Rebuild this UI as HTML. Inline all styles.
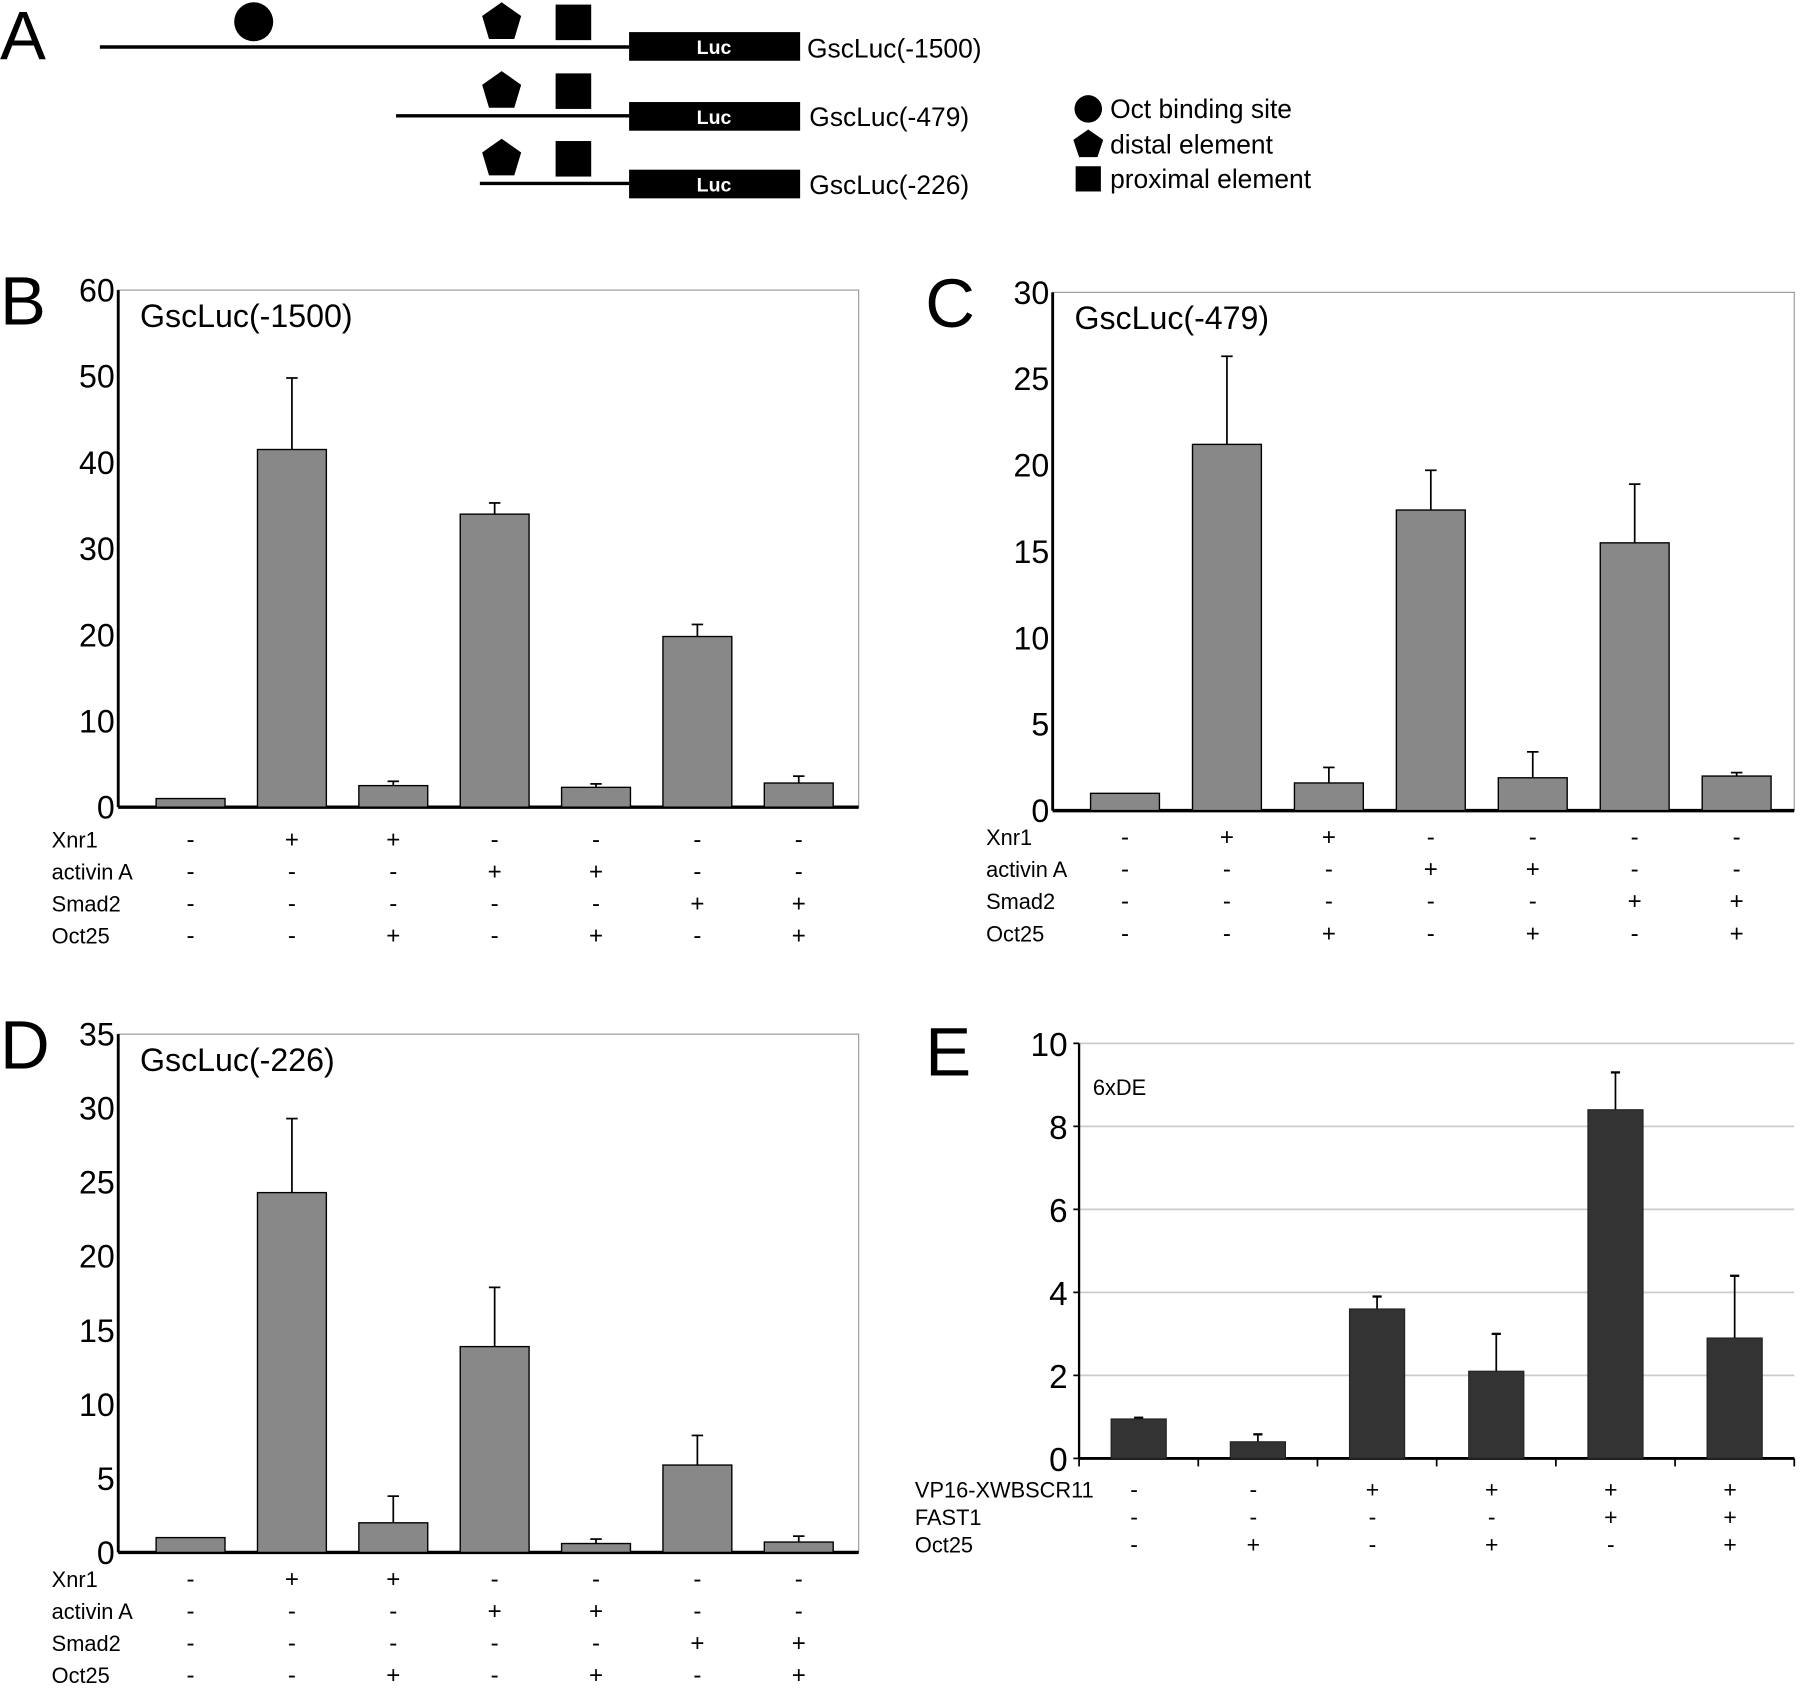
<!DOCTYPE html>
<html><head><meta charset="utf-8"><style>
html,body{margin:0;padding:0;background:#fff;}
svg{display:block;font-family:"Liberation Sans",sans-serif;}
</style></head><body>
<svg id="fig" width="1800" height="1690" viewBox="0 0 1568 1474" preserveAspectRatio="none" xmlns="http://www.w3.org/2000/svg">
<rect width="1568" height="1474" fill="#fff"/>
<g>
<text x="0" y="52" font-size="60">A</text>
<line x1="87" y1="41" x2="548" y2="41" stroke="#000" stroke-width="3"/>
<rect x="548" y="28" width="149" height="25" fill="#000"/>
<text x="622" y="47" font-size="17" font-weight="bold" fill="#fff" text-anchor="middle">Luc</text>
<circle cx="221" cy="19" r="17" fill="#000"/>
<polygon points="437,2 454,14 448,34 426,34 420,14" fill="#000"/>
<rect x="484" y="4" width="31" height="31" fill="#000"/>
<text x="703" y="50" font-size="23">GscLuc(-1500)</text>
<line x1="345" y1="101" x2="548" y2="101" stroke="#000" stroke-width="3"/>
<rect x="548" y="89" width="149" height="25" fill="#000"/>
<text x="622" y="108" font-size="17" font-weight="bold" fill="#fff" text-anchor="middle">Luc</text>
<polygon points="437,62 454,74 448,94 426,94 420,74" fill="#000"/>
<rect x="484" y="64" width="31" height="31" fill="#000"/>
<text x="705" y="110" font-size="23">GscLuc(-479)</text>
<line x1="418" y1="160" x2="548" y2="160" stroke="#000" stroke-width="3"/>
<rect x="548" y="148" width="149" height="25" fill="#000"/>
<text x="622" y="167" font-size="17" font-weight="bold" fill="#fff" text-anchor="middle">Luc</text>
<polygon points="437,121 454,133 448,153 426,153 420,133" fill="#000"/>
<rect x="484" y="123" width="31" height="31" fill="#000"/>
<text x="705" y="169" font-size="23">GscLuc(-226)</text>
<g>
<circle cx="948" cy="95" r="12" fill="#000"/>
<text x="967" y="103" font-size="23">Oct binding site</text>
<polygon points="948,113 961,122 956,137 940,137 935,122" fill="#000"/>
<text x="967" y="134" font-size="23">distal element</text>
<rect x="937" y="145" width="22" height="22" fill="#000"/>
<text x="967" y="164" font-size="23">proximal element</text>
</g>
</g>
<g id="charts"></g>
</svg>
<script>
const NS="http://www.w3.org/2000/svg";
const root=document.getElementById('charts');
const categoriesBCD=["1","2","3","4","5","6","7"];
const valuesB=[1,41.5,2.5,34,2.3,19.8,2.8];
const errTopB=[1,49.8,3,35.3,2.7,21.2,3.6];
const valuesC=[1,21.2,1.6,17.4,1.9,15.5,2];
const errTopC=[1,26.3,2.5,19.7,3.4,18.9,2.2];
const valuesD=[1,24.3,2,13.9,0.6,5.9,0.7];
const errTopD=[1,29.3,3.8,17.9,0.9,7.9,1.1];
const ticksB=[0,10,20,30,40,50,60];
const ticksC=[0,5,10,15,20,25,30];
const ticksD=[0,5,10,15,20,25,30,35];
const rowNamesBCD=["Xnr1","activin A","Smad2","Oct25"];
const rowXnr1=["-","+","+","-","-","-","-"];
const rowActivin=["-","-","-","+","+","-","-"];
const rowSmad2=["-","-","-","-","-","+","+"];
const rowOct25=["-","-","+","-","+","-","+"];
const valuesE=[0.95,0.4,3.6,2.1,8.4,2.9];
const errTopE=[0.98,0.58,3.9,3.0,9.3,4.4];
const ticksE=[0,2,4,6,8,10];
const rowNamesE=["VP16-XWBSCR11","FAST1","Oct25"];
const rowVP16=["-","-","+","+","+","+"];
const rowFAST1=["-","-","-","-","+","+"];
const rowOct25E=["-","+","-","+","-","+"];

function el(tag,attrs,parent,text){const e=document.createElementNS(NS,tag);for(const k in attrs)e.setAttribute(k,attrs[k]);if(text!==undefined)e.textContent=text;(parent||root).appendChild(e);return e;}

function boxChart(o){
  const g=el('g',{});
  
  
  const max=o.ticks[o.ticks.length-1];
  const y=v=>o.y0-(v/max)*(o.y0-o.y1);
  const x=i=>o.c0+o.step*i;
  el('rect',{x:o.x0,y:o.y1,width:o.x1-o.x0,height:o.y0-o.y1,fill:'none',stroke:'#999','stroke-width':1},g);
  el('line',{x1:o.x0,y1:o.y1,x2:o.x0,y2:o.y0,stroke:'#000','stroke-width':2.5},g);
  el('line',{x1:o.x0,y1:o.y0,x2:o.x1,y2:o.y0,stroke:'#000','stroke-width':3},g);
  o.ticks.forEach(t=>{
    const tx=el('text',{x:o.x0-3,y:y(t)+10,'font-size':28,'text-anchor':'end'},g,String(t));
    
    
  });
  const ti=el('text',{x:o.x0+19,y:o.y1+32,'font-size':28},g,o.title);
  
  
  o.values.forEach((v,i)=>{
    const e=o.errs[i];
    if(e>v){
      el('line',{x1:x(i),y1:y(e),x2:x(i),y2:y(v),stroke:'#000','stroke-width':1.5},g);
      el('line',{x1:x(i)-5,y1:y(e),x2:x(i)+5,y2:y(e),stroke:'#000','stroke-width':1.5},g);
    }
    const b=el('rect',{x:x(i)-o.bw/2,y:y(v),width:o.bw,height:o.y0-y(v),fill:o.fill,stroke:'#000','stroke-width':1.2},g);
    
    
  });
  o.rows.forEach((r,ri)=>{
    const ry=o.rowY+ri*o.rowGap;
    const lb=el('text',{x:o.labelX,y:ry,'font-size':o.rowFont},g,o.rowNames[ri]);
    
    
    r.forEach((s,i)=>{
      el('text',{x:x(i),y:ry,'font-size':21,'text-anchor':'middle'},g,s);
    });
  });
  el('text',{x:o.letterX,y:o.letterY,'font-size':60},g,o.letter);
}

const rowsBCD=[rowXnr1,rowActivin,rowSmad2,rowOct25];
boxChart({name:'chart-b',letter:'B',letterX:0,letterY:283,title:'GscLuc(-1500)',x0:103,x1:748,c0:166,step:88.3,y0:704,y1:253,values:valuesB,errs:errTopB,ticks:ticksB,bw:60,fill:'#888',rows:rowsBCD,rowNames:rowNamesBCD,rowY:739,rowGap:28,labelX:45,rowFont:19});
boxChart({name:'chart-c',letter:'C',letterX:806,letterY:285,title:'GscLuc(-479)',x0:917,x1:1563,c0:980,step:88.8,y0:707,y1:255,values:valuesC,errs:errTopC,ticks:ticksC,bw:60,fill:'#888',rows:rowsBCD,rowNames:rowNamesBCD,rowY:737,rowGap:28,labelX:859,rowFont:19});
boxChart({name:'chart-d',letter:'D',letterX:0,letterY:932,title:'GscLuc(-226)',x0:103,x1:748,c0:166,step:88.3,y0:1354,y1:902,values:valuesD,errs:errTopD,ticks:ticksD,bw:60,fill:'#888',rows:rowsBCD,rowNames:rowNamesBCD,rowY:1384,rowGap:28,labelX:45,rowFont:19});

(function(){
  const g=el('g',{});
  
  
  const x0=940,x1=1563,y0=1272,y1=910,max=ticksE[ticksE.length-1],n=valuesE.length;
  const y=v=>y0-(v/max)*(y0-y1);
  const step=(x1-x0)/n;const x=i=>x0+step*(i+0.5);
  ticksE.forEach(t=>{
    if(t>0)el('line',{x1:x0,y1:y(t),x2:x1,y2:y(t),stroke:'#ccc','stroke-width':1.5},g);
    const tx=el('text',{x:x0-10,y:y(t)+11,'font-size':29,'text-anchor':'end'},g,String(t));
    
    
    el('line',{x1:x0-5,y1:y(t),x2:x0,y2:y(t),stroke:'#000','stroke-width':1.5},g);
  });
  el('line',{x1:x0,y1:y1,x2:x0,y2:y0,stroke:'#000','stroke-width':2},g);
  el('line',{x1:x0,y1:y0,x2:x1,y2:y0,stroke:'#000','stroke-width':2.5},g);
  for(let i=0;i<=n;i++)el('line',{x1:x0+step*i,y1:y0,x2:x0+step*i,y2:y0+7,stroke:'#000','stroke-width':1.5},g);
  el('text',{x:952,y:955,'font-size':19},g,'6xDE');
  valuesE.forEach((v,i)=>{
    const e=errTopE[i];
    el('line',{x1:x(i),y1:y(e),x2:x(i),y2:y(v),stroke:'#000','stroke-width':1.5},g);
    el('line',{x1:x(i)-4,y1:y(e),x2:x(i)+4,y2:y(e),stroke:'#000','stroke-width':2},g);
    const b=el('rect',{x:x(i)-24,y:y(v),width:48,height:y0-y(v),fill:'#333',stroke:'#222','stroke-width':1},g);
    
    
  });
  [rowVP16,rowFAST1,rowOct25E].forEach((r,ri)=>{
    const ry=1306+ri*24;
    const lb=el('text',{x:797,y:ry,'font-size':19},g,rowNamesE[ri]);
    
    
    r.forEach((s,i)=>el('text',{x:x(i)-4,y:ry,'font-size':20,'text-anchor':'middle'},g,s));
  });
  el('text',{x:806,y:938,'font-size':60},g,'E');
})();
</script>
</body></html>
